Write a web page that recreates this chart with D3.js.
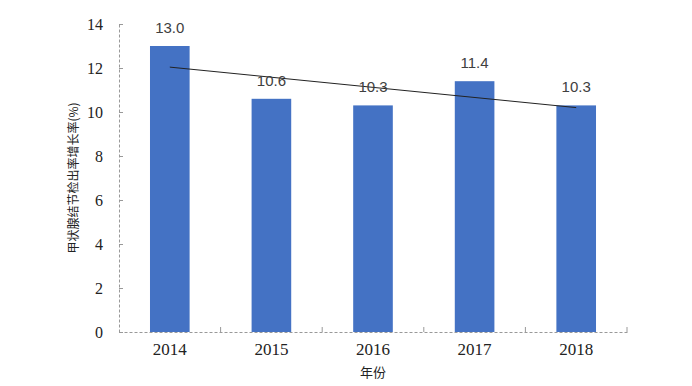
<!DOCTYPE html>
<html><head><meta charset="utf-8">
<script src="https://cdn.jsdelivr.net/npm/d3@7/dist/d3.min.js"></script>
<style>body{margin:0;background:#fff}svg{display:block}</style>
</head><body><svg id="c" width="692" height="386"></svg>
<script>
const years = ["2014","2015","2016","2017","2018"];
const values = [13.0, 10.6, 10.3, 11.4, 10.3];
const yTicks = [0,2,4,6,8,10,12,14];
const xTitle = "年份";
const yTitle = "甲状腺结节检出率增长率(%)";

const svg = d3.select("#c");
const m = {l:119, r:65, t:24, b:54};
const W = 692, H = 386;
const x = d3.scaleBand().domain(years).range([m.l, W - m.r]).padding(0);
const y = d3.scaleLinear().domain([0,14]).range([H - m.b, m.t]);
const tickFont = "'Liberation Serif','Noto Sans CJK SC',serif";

// bars
const bw = x.bandwidth()*0.39;
svg.selectAll("rect.bar").data(values).join("rect")
  .attr("x",(d,i)=>x(years[i])+x.bandwidth()/2-bw/2)
  .attr("y",d=>y(d)).attr("width",bw).attr("height",d=>y(0)-y(d))
  .attr("fill","#4472C4");

// axes
const gx = svg.append("g").attr("transform",`translate(0,${y(0)})`)
  .call(d3.axisBottom(x).tickSizeInner(0).tickSizeOuter(0).tickPadding(11));
gx.select(".domain").attr("stroke","#999").attr("stroke-dasharray","3,2");
gx.selectAll("text").attr("font-family",tickFont).attr("font-size",17).attr("fill","#222");
// inner tick marks at band boundaries
const bounds = years.map(yr=>x(yr)).concat([x(years[years.length-1])+x.bandwidth()]);
svg.selectAll("line.xt").data(bounds.slice(1)).join("line")
  .attr("x1",d=>d).attr("x2",d=>d).attr("y1",y(0)).attr("y2",y(0)-5)
  .attr("stroke","#999");

const gy = svg.append("g").attr("transform",`translate(${m.l},0)`)
  .call(d3.axisLeft(y).tickValues(yTicks).tickSizeInner(-4).tickSizeOuter(0).tickPadding(16));
gy.select(".domain").attr("stroke","#999").attr("stroke-dasharray","3,2");
gy.selectAll(".tick line").attr("stroke","#999");
gy.selectAll("text").attr("font-family",tickFont).attr("font-size",16).attr("fill","#222");

// trend line (linear regression of the values)
const n = values.length, xs = values.map((d,i)=>i+1);
const mx = d3.mean(xs), my = d3.mean(values);
const slope = d3.sum(xs.map((xi,i)=>(xi-mx)*(values[i]-my)))/d3.sum(xs.map(xi=>(xi-mx)**2));
const icpt = my - slope*mx;
svg.append("line")
  .attr("x1",x(years[0])+x.bandwidth()/2).attr("y1",y(icpt+slope*1))
  .attr("x2",x(years[n-1])+x.bandwidth()/2).attr("y2",y(icpt+slope*n))
  .attr("stroke","#222").attr("stroke-width",1);

// data labels
svg.selectAll("text.lbl").data(values).join("text")
  .attr("x",(d,i)=>x(years[i])+x.bandwidth()/2).attr("y",d=>y(d)-13)
  .attr("text-anchor","middle").attr("font-family","'Liberation Sans',Arial,sans-serif")
  .attr("font-size",15).attr("fill","#404040").text(d=>d.toFixed(1));

// titles
svg.append("text").attr("x",(m.l+W-m.r)/2).attr("y",377).attr("text-anchor","middle")
  .attr("font-family","'Noto Sans CJK SC',sans-serif").attr("font-size",13).attr("fill","#222").text(xTitle);
svg.append("text").attr("transform",`translate(78,${(y(0)+y(14))/2}) rotate(-90)`)
  .attr("text-anchor","middle").attr("font-family","'Noto Sans CJK SC',sans-serif")
  .attr("font-size",12).attr("fill","#222").text(yTitle);
</script></body></html>
